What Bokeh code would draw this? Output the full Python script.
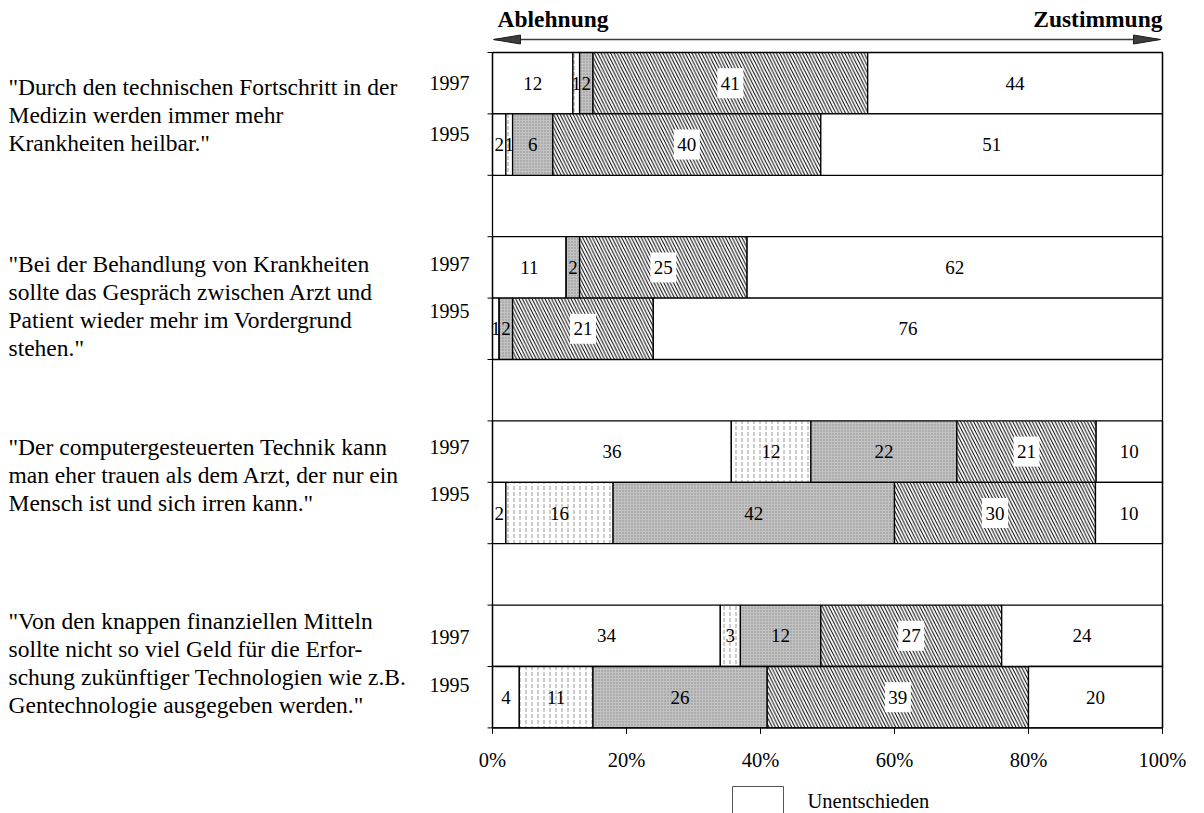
import numpy as np
from bokeh.plotting import figure
from bokeh.models import Range1d, ColumnDataSource
from bokeh.core.properties import value
from bokeh.embed import file_html
from bokeh.resources import INLINE

# ---------------- data ----------------
statements = [
    ['"Durch den technischen Fortschritt in der', 'Medizin werden immer mehr', 'Krankheiten heilbar."'],
    ['"Bei der Behandlung von Krankheiten', 'sollte das Gespräch zwischen Arzt und',
     'Patient wieder mehr im Vordergrund', 'stehen."'],
    ['"Der computergesteuerten Technik kann', 'man eher trauen als dem Arzt, der nur ein',
     'Mensch ist und sich irren kann."'],
    ['"Von den knappen finanziellen Mitteln', 'sollte nicht so viel Geld für die Erfor-',
     'schung zukünftiger Technologien wie z.B.', 'Gentechnologie ausgegeben werden."'],
]
years = ["1997", "1995"]
# shares (%) per answer category, from Ablehnung (left) to Zustimmung (right)
# order of rows: st1-1997, st1-1995, st2-1997, st2-1995, st3-1997, st3-1995, st4-1997, st4-1995
cat1 = [12, 2, 11, 1, 36, 2, 34, 4]
cat2 = [1, 1, 0, 0, 12, 16, 3, 11]
cat3 = [2, 6, 2, 2, 22, 42, 12, 26]
cat4 = [41, 40, 25, 21, 21, 30, 27, 39]
cat5 = [44, 51, 62, 76, 10, 10, 24, 20]
tick_values = [0, 20, 40, 60, 80, 100]
tick_labels = ["0%", "20%", "40%", "60%", "80%", "100%"]
header_left = "Ablehnung"
header_right = "Zustimmung"
legend_label = "Unentschieden"

# ---------------- layout ----------------
W, H = 1204, 813
PX0, PXS = 492.0, 6.7        # canvas x of 0 %, pixels per %
PY0, ROWH = 52.0, 61.4       # canvas y of first bar top, pixels per bar row
SERIF = value("Liberation Serif")


def X(cx):
    return (cx - PX0) / PXS


def Y(cy):
    return (cy - PY0) / ROWH


p = figure(width=W, height=H, output_backend="svg", toolbar_location=None,
           x_range=Range1d(X(0), X(W)), y_range=Range1d(Y(H), Y(0)),
           x_axis_location=None, y_axis_location=None, min_border=0,
           outline_line_color=None, background_fill_color="white",
           border_fill_color="white")
p.grid.visible = False

cats = [cat1, cat2, cat3, cat4, cat5]
n_rows = len(cat1)
rows = np.array([3 * (i // 2) + (i % 2) for i in range(n_rows)], dtype=float)
vals = np.array(cats, dtype=float)            # shape (5, n_rows)
tot = vals.sum(axis=0)
cum = np.vstack([np.zeros(n_rows), np.cumsum(vals, axis=0)]) / tot * 100.0

styles = [
    dict(fill_color="white"),
    dict(fill_color="white", hatch_pattern=":", hatch_color="#9a9a9a", hatch_scale=6, hatch_weight=1),
    dict(fill_color="#c2c2c2", hatch_pattern=".", hatch_color="#8c8c8c", hatch_scale=3, hatch_weight=1),
    dict(fill_color="white", hatch_pattern="\\", hatch_color="black", hatch_scale=6.5, hatch_weight=1.0),
    dict(fill_color="white"),
]

for k in range(5):
    src = ColumnDataSource(dict(left=cum[k], right=cum[k + 1], top=rows, bottom=rows + 1))
    p.quad(left="left", right="right", top="top", bottom="bottom", source=src,
           line_color="black", line_width=1.3, **styles[k])

# segment labels
lx, ly, lt, bx, by = [], [], [], [], []
for k in range(5):
    for i in range(n_rows):
        v = cats[k][i]
        if v <= 0:
            continue
        cx = (cum[k][i] + cum[k + 1][i]) / 2
        lx.append(cx); ly.append(rows[i] + 0.5); lt.append(str(v))
        if k == 3:
            bx.append(cx); by.append(rows[i] + 0.5)
p.rect(x=bx, y=by, width=26, height=30, width_units="screen", height_units="screen",
       fill_color="white", line_color=None)
p.text(x=lx, y=ly, text=lt, text_font=SERIF, text_font_size="19px", text_color="black",
       text_align="center", text_baseline="middle")

# frame lines
last = float(3 * (len(statements) - 1) + 2)
p.segment(x0=[0, 100], y0=[0, 0], x1=[0, 100], y1=[last, last], line_color="black", line_width=1.3)
p.segment(x0=[0], y0=[last], x1=[100], y1=[last], line_color="black", line_width=1.3)
bnd = sorted(set(list(rows) + list(rows + 1)))
p.segment(x0=[X(PX0 - 5)] * len(bnd), y0=bnd, x1=[0] * len(bnd), y1=bnd, line_color="black", line_width=1)
tk = np.array(tick_values, dtype=float)
p.segment(x0=tk, y0=[last] * len(tk), x1=tk, y1=[last + 6 / ROWH] * len(tk), line_color="black", line_width=1)
p.text(x=tk, y=[last + 32 / ROWH] * len(tk), text=tick_labels, text_font=SERIF, text_font_size="20.5px",
       text_align="center", text_baseline="middle", text_color="black")

# statements and years
first_off = [4, -3, -5, -15]
year_off = [[0, 51], [-3, 44], [-5, 42], [1, 49]]
sx, sy, st = [], [], []
yx, yy, yt = [], [], []
for g, lines in enumerate(statements):
    c = 3 * g + 0.5
    for j, line in enumerate(lines):
        sx.append(X(8)); sy.append(c + (first_off[g] + 28 * j) / ROWH); st.append(line)
    for r, yr in enumerate(years):
        yx.append(X(429)); yy.append(c + year_off[g][r] / ROWH); yt.append(yr)
p.text(x=sx, y=sy, text=st, text_font=SERIF, text_font_size="23.5px", text_align="left",
       text_baseline="middle", text_color="black")
p.text(x=yx, y=yy, text=yt, text_font=SERIF, text_font_size="20px", text_align="left",
       text_baseline="middle", text_color="black")

# header with double arrow
ay = Y(39)
p.segment(x0=[X(PX0 + 2)], y0=[ay], x1=[X(PX0 + 666)], y1=[ay], line_color="#3a3a3a", line_width=1.6)
hl = 27 / PXS
hw = 4.5 / ROWH
p.patches(xs=[[X(PX0 + 1), X(PX0 + 1) + hl, X(PX0 + 1) + hl],
              [X(PX0 + 668), X(PX0 + 668) - hl, X(PX0 + 668) - hl]],
          ys=[[ay, ay - hw, ay + hw], [ay, ay - hw, ay + hw]],
          fill_color="#3c3c3c", line_color="#1e1e1e", line_width=1)
p.text(x=[X(497)], y=[Y(18)], text=[header_left], text_font=SERIF, text_font_size="23.5px",
       text_font_style="bold", text_align="left", text_baseline="middle", text_color="black")
p.text(x=[100], y=[Y(18)], text=[header_right], text_font=SERIF, text_font_size="23.5px",
       text_font_style="bold", text_align="right", text_baseline="middle", text_color="black")

# legend (partly cut at the bottom edge)
p.quad(left=[X(732)], right=[X(783)], top=[Y(786)], bottom=[Y(820)],
       fill_color="white", line_color="#555555", line_width=1)
p.text(x=[X(807)], y=[Y(800)], text=[legend_label], text_font=SERIF, text_font_size="20.5px",
       text_align="left", text_baseline="middle", text_color="black")

open("out.html", "w").write(file_html(p, INLINE))
